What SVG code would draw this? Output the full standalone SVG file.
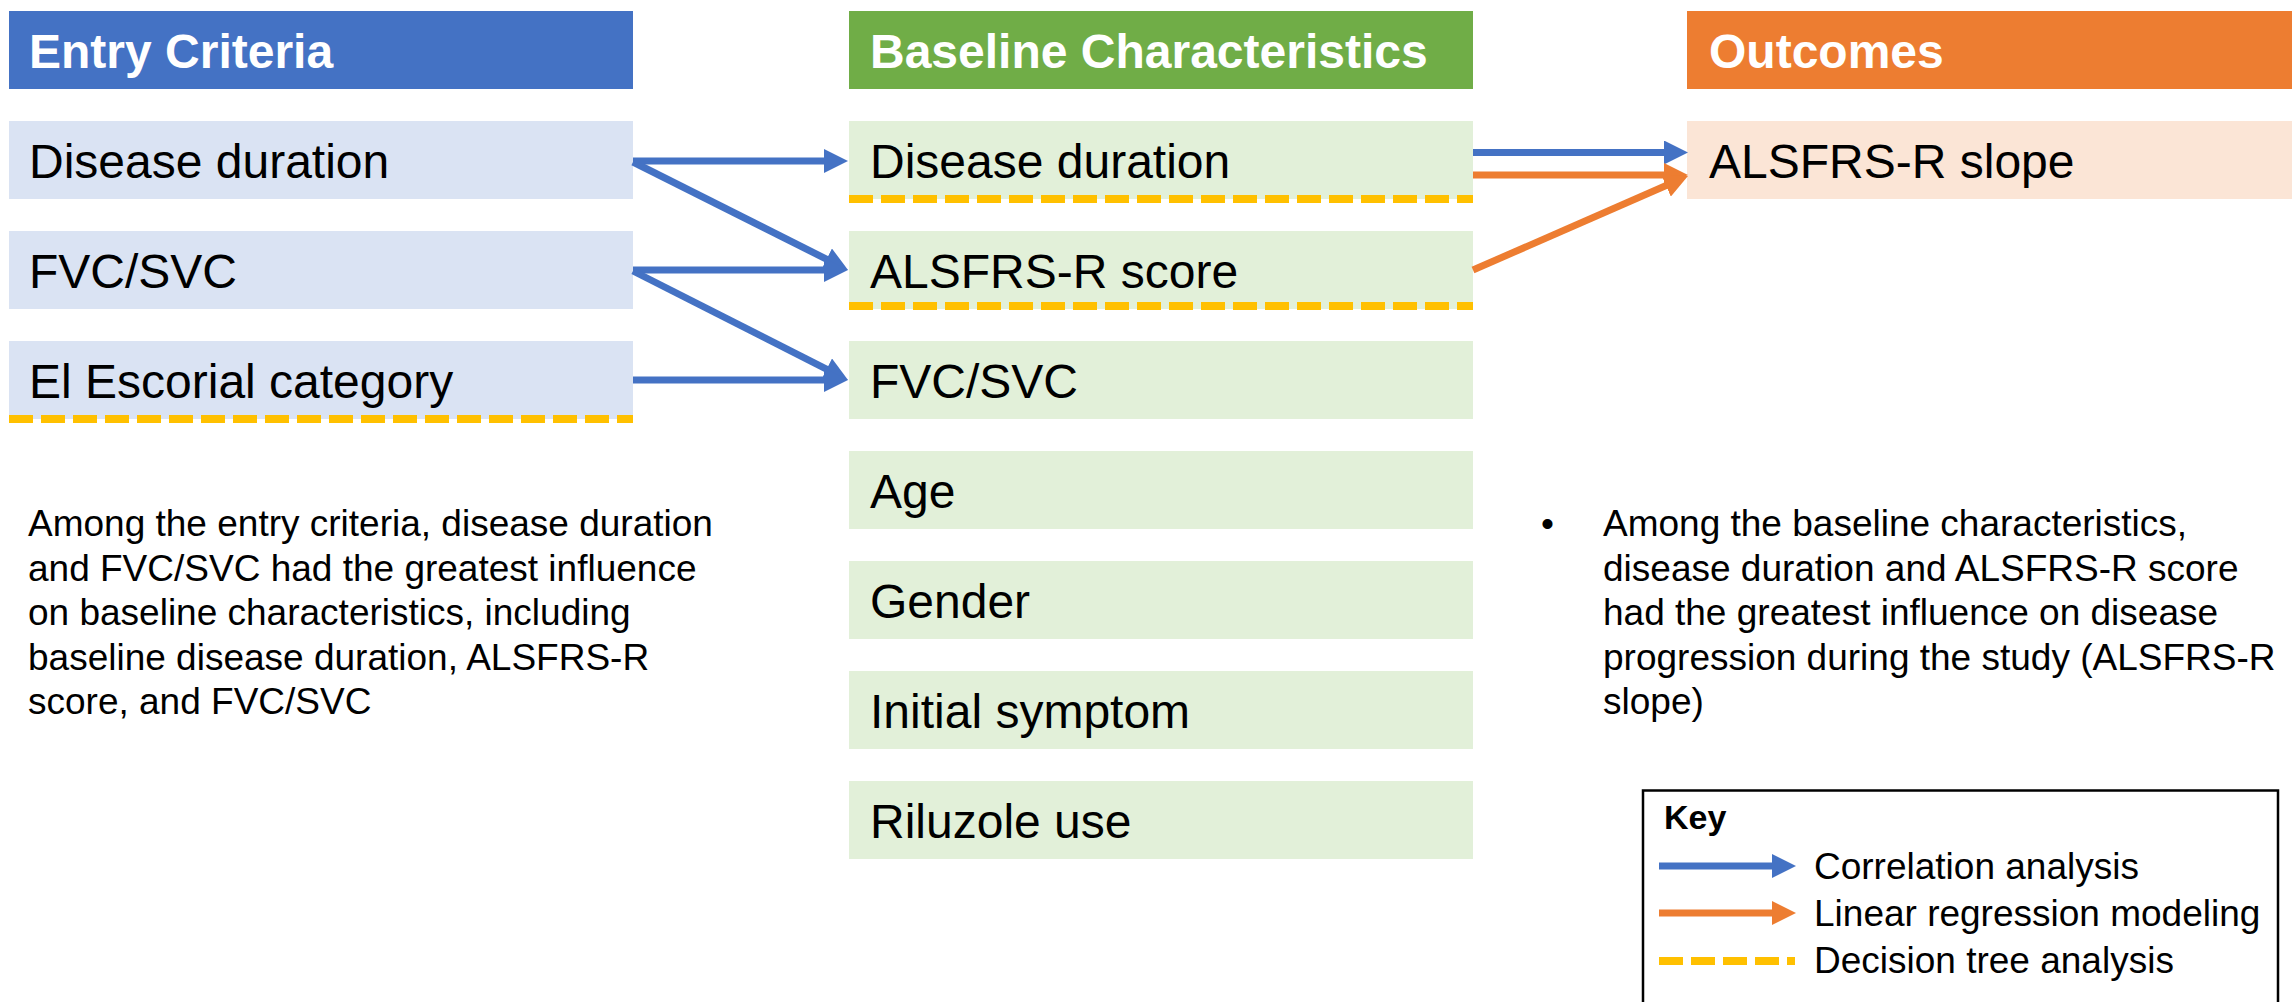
<svg xmlns="http://www.w3.org/2000/svg" width="2292" height="1002" viewBox="0 0 2292 1002">
<defs>
<style>
.hdr{font-family:"Liberation Sans",Arial,sans-serif;font-weight:bold;font-size:48px;fill:#fff}
.nt{font-family:"Liberation Sans",Arial,sans-serif;font-size:48px;fill:#000}
.para{font-family:"Liberation Sans",Arial,sans-serif;font-size:37px;fill:#000}
.key{font-family:"Liberation Sans",Arial,sans-serif;font-weight:bold;font-size:34px;fill:#000}
.eb{fill:#DAE3F3}
.gb{fill:#E2F0D9}
.ob{fill:#FBE5D6}
.dt{stroke:#FFC000;stroke-width:8;stroke-dasharray:24 8;fill:none}
.ba{stroke:#4472C4;stroke-width:7;fill:none;marker-end:url(#mb)}
.oa{stroke:#ED7D31;stroke-width:7;fill:none;marker-end:url(#mo)}
</style>
<marker id="mb" markerUnits="userSpaceOnUse" markerWidth="24" markerHeight="24" refX="12" refY="12" orient="auto"><path d="M0,0 L24,12 L0,24 Z" fill="#4472C4"/></marker>
<marker id="mo" markerUnits="userSpaceOnUse" markerWidth="24" markerHeight="24" refX="12" refY="12" orient="auto"><path d="M0,0 L24,12 L0,24 Z" fill="#ED7D31"/></marker>
</defs>
<rect width="2292" height="1002" fill="#fff"/>

<g id="hdr-entry"><rect x="9" y="11" width="624" height="78" fill="#4472C4"/><text class="hdr" x="29" y="68">Entry Criteria</text></g>
<g id="hdr-baseline"><rect x="849" y="11" width="624" height="78" fill="#70AD47"/><text class="hdr" x="870" y="68">Baseline Characteristics</text></g>
<g id="hdr-outcomes"><rect x="1687" y="11" width="605" height="78" fill="#ED7D31"/><text class="hdr" x="1709" y="68">Outcomes</text></g>

<g id="entry-duration"><rect class="eb" x="9" y="121" width="624" height="78"/><text class="nt" x="29" y="178">Disease duration</text></g>
<g id="entry-fvc"><rect class="eb" x="9" y="231" width="624" height="78"/><text class="nt" x="29" y="288">FVC/SVC</text></g>
<g id="entry-escorial"><rect class="eb" x="9" y="341" width="624" height="78"/><text class="nt" x="29" y="398">El Escorial category</text><path class="dt" d="M9,419 H633"/></g>

<g id="base-duration"><rect class="gb" x="849" y="121" width="624" height="78"/><text class="nt" x="870" y="178">Disease duration</text><path class="dt" d="M849,199 H1473"/></g>
<g id="base-alsfrs"><rect class="gb" x="849" y="231" width="624" height="78"/><text class="nt" x="870" y="288">ALSFRS-R score</text><path class="dt" d="M849,306 H1473"/></g>
<g id="base-fvc"><rect class="gb" x="849" y="341" width="624" height="78"/><text class="nt" x="870" y="398">FVC/SVC</text></g>
<g id="base-age"><rect class="gb" x="849" y="451" width="624" height="78"/><text class="nt" x="870" y="508">Age</text></g>
<g id="base-gender"><rect class="gb" x="849" y="561" width="624" height="78"/><text class="nt" x="870" y="618">Gender</text></g>
<g id="base-symptom"><rect class="gb" x="849" y="671" width="624" height="78"/><text class="nt" x="870" y="728">Initial symptom</text></g>
<g id="base-riluzole"><rect class="gb" x="849" y="781" width="624" height="78"/><text class="nt" x="870" y="838">Riluzole use</text></g>

<g id="out-slope"><rect class="ob" x="1687" y="121" width="605" height="78"/><text class="nt" x="1709" y="178">ALSFRS-R slope</text></g>

<g id="connectors">
<path class="ba" d="M633,161 L836,161"/>
<path class="ba" d="M633,162 L837.3,264.6"/>
<path class="ba" d="M633,270 L836,270"/>
<path class="ba" d="M633,271 L837.3,374.6"/>
<path class="ba" d="M633,380 L836,380"/>
<path class="ba" d="M1473,152.5 L1676,152.5"/>
<path class="oa" d="M1473,175 L1676,175"/>
<path class="oa" d="M1473,270 L1677,180.8"/>
</g>

<g id="note-left">
<text class="para" x="28" y="536">Among the entry criteria, disease duration</text>
<text class="para" x="28" y="580.5">and FVC/SVC had the greatest influence</text>
<text class="para" x="28" y="625">on baseline characteristics, including</text>
<text class="para" x="28" y="669.5">baseline disease duration, ALSFRS-R</text>
<text class="para" x="28" y="714">score, and FVC/SVC</text>
</g>

<g id="note-right">
<text class="para" x="1541" y="536">•</text>
<text class="para" x="1603" y="536">Among the baseline characteristics,</text>
<text class="para" x="1603" y="580.5">disease duration and ALSFRS-R score</text>
<text class="para" x="1603" y="625">had the greatest influence on disease</text>
<text class="para" x="1603" y="669.5">progression during the study (ALSFRS-R</text>
<text class="para" x="1603" y="714">slope)</text>
</g>

<g id="legend">
<rect x="1643" y="790.5" width="635" height="260" fill="#fff" stroke="#000" stroke-width="2.5"/>
<text class="key" x="1664" y="829">Key</text>
<path class="ba" d="M1659,866 L1784,866"/>
<text class="para" x="1814" y="879">Correlation analysis</text>
<path class="oa" d="M1659,913 L1784,913"/>
<text class="para" x="1814" y="926">Linear regression modeling</text>
<path class="dt" d="M1659,961 H1795"/>
<text class="para" x="1814" y="973">Decision tree analysis</text>
</g>
</svg>
